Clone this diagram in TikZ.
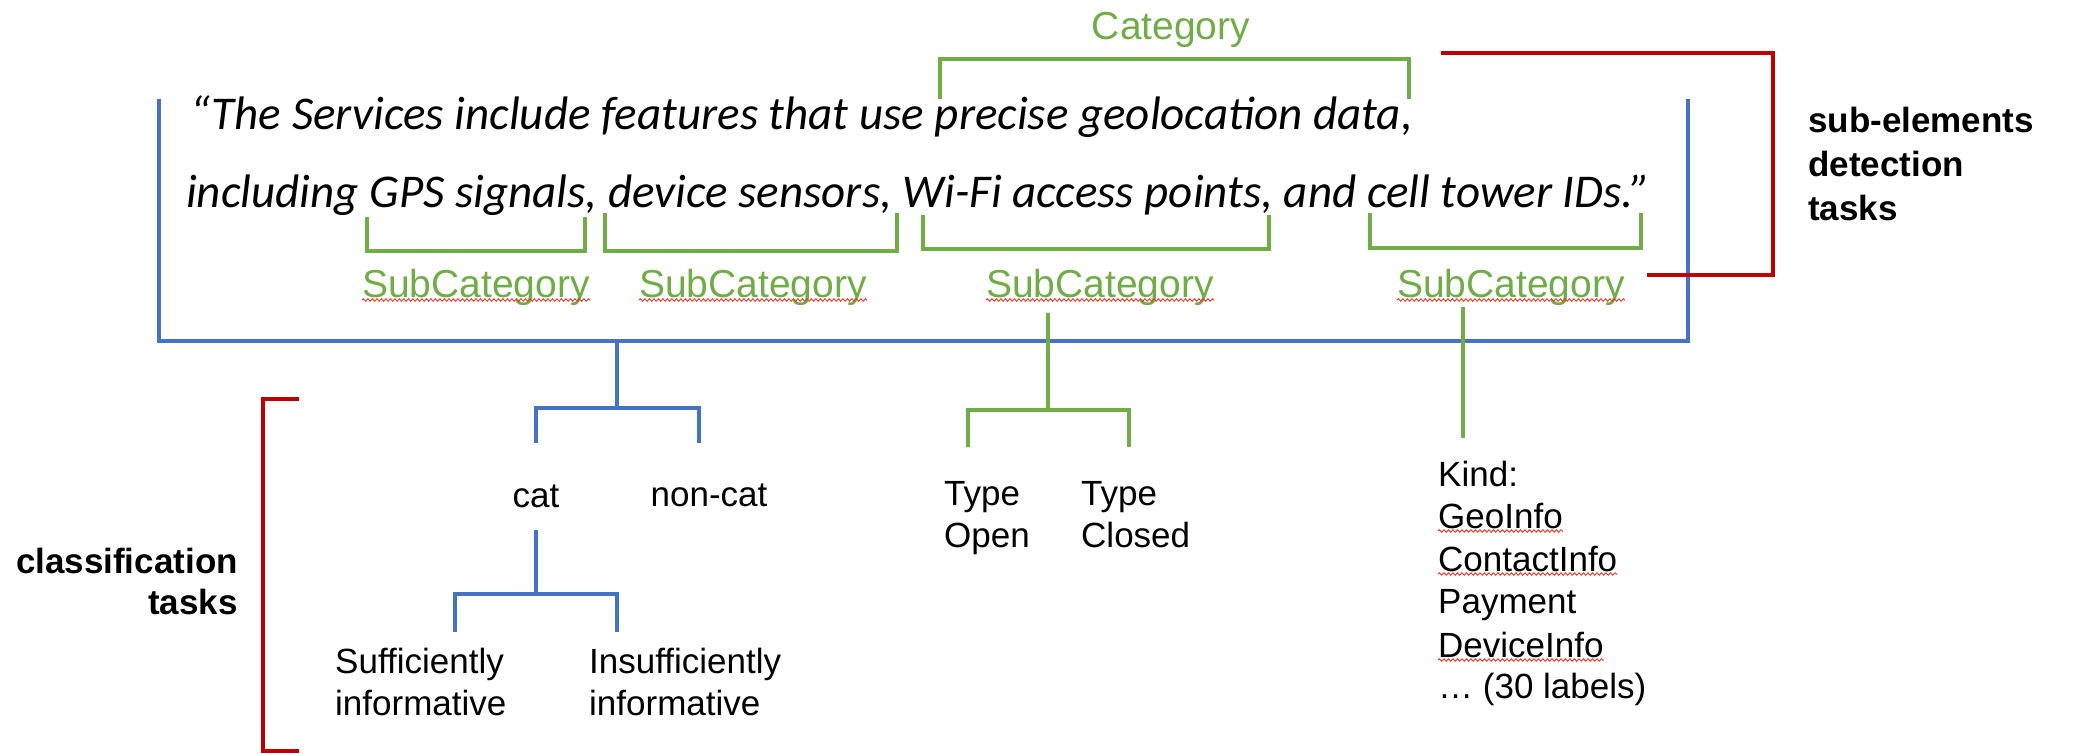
\documentclass[tikz,border=0pt]{standalone}
\usepackage{fontspec}
\setmainfont{Liberation Sans}
\newfontfamily\quotefont{Carlito}
\usetikzlibrary{decorations.pathmorphing}
\definecolor{linkblue}{HTML}{4472C4}
\definecolor{taggreen}{HTML}{70AD47}
\definecolor{taskred}{HTML}{C00000}
\definecolor{spellred}{HTML}{E8402F}
\begin{document}
\begin{tikzpicture}[x=1bp,y=-1bp,
  bline/.style={draw=linkblue,line width=4bp},
  gline/.style={draw=taggreen,line width=4bp},
  rline/.style={draw=taskred,line width=4.5bp},
  quote/.style={anchor=base west,inner sep=0,font=\quotefont\itshape\fontsize{47bp}{54bp}\selectfont},
  tag/.style={anchor=base,inner sep=0,text=taggreen,font=\fontsize{39bp}{46bp}\selectfont},
  lbl/.style={anchor=base west,inner sep=0,font=\fontsize{35bp}{42bp}\selectfont},
  task/.style={anchor=base west,inner sep=0,font=\bfseries\fontsize{35bp}{42bp}\selectfont},
  spell/.style={draw=spellred,line width=1bp,decorate,decoration={snake,amplitude=1.2bp,segment length=4.5bp}},
]
\useasboundingbox (0,0) rectangle (2073,755);

% the quoted sentence
\node[quote] (q1) at (190,129) {“The Services include features that use precise geolocation data,};
\node[quote] (q2) at (186,207) {including GPS signals, device sensors, Wi-Fi access points, and cell tower IDs.”};

% category / subcategory tags
\node[tag] (cat0) at (1171,40) {Category};
\node[tag] (sc1) at (476,297) {SubCategory};
\node[tag] (sc2) at (753,297) {SubCategory};
\node[tag] (sc3) at (1100,297) {SubCategory};
\node[tag] (sc4) at (1511,297) {SubCategory};
\foreach \n in {sc1,sc2,sc3,sc4}
  \draw[spell] ([yshift=-3bp]\n.base west) -- ([yshift=-3bp]\n.base east);

% brackets over and under the sentence
\draw[gline] (940,99) -- (940,59) -- (1409,59) -- (1409,99);
\draw[gline] (367,217) -- (367,251) -- (585,251) -- (585,217);
\draw[gline] (605,213) -- (605,251) -- (897,251) -- (897,213);
\draw[gline] (923,215) -- (923,249) -- (1269,249) -- (1269,215);
\draw[gline] (1370,213) -- (1370,248) -- (1641,248) -- (1641,213);

% sentence-level classification
\draw[bline] (159,99) -- (159,341) -- (1688,341) -- (1688,99);
\node[lbl,anchor=base] (cat) at (536,507) {cat};
\node[lbl,anchor=base] (noncat) at (709,506) {non-cat};
\coordinate (top1) at (617,341);
\coordinate (f1) at (617,408);
\coordinate (catin) at (536,443);
\coordinate (noncatin) at (699,443);
\draw[bline] (top1) -- (f1);
\draw[bline] (catin) |- (f1) -| (noncatin);

\node[lbl] (suff) at (335,673) {Sufficiently};
\node[lbl] (suff2) at (335,715) {informative};
\node[lbl] (insuff) at (589,673) {Insufficiently};
\node[lbl] (insuff2) at (589,715) {informative};
\coordinate (catout) at (536,530);
\coordinate (f2) at (536,594);
\coordinate (suffin) at (455,632);
\coordinate (insuffin) at (617,632);
\draw[bline] (catout) -- (f2);
\draw[bline] (suffin) |- (f2) -| (insuffin);

% type of the third subcategory
\node[lbl] (topen) at (944,505) {Type};
\node[lbl] (topen2) at (944,547) {Open};
\node[lbl] (tclosed) at (1081,505) {Type};
\node[lbl] (tclosed2) at (1081,547) {Closed};
\coordinate (sc3out) at (1048,313);
\coordinate (f3) at (1048,410);
\coordinate (openin) at (968,447);
\coordinate (closedin) at (1129,447);
\draw[gline] (sc3out) -- (f3);
\draw[gline] (openin) |- (f3) -| (closedin);

% kind of the fourth subcategory
\node[lbl] (kind) at (1438,486) {Kind:};
\node[lbl] (geo) at (1438,528) {GeoInfo};
\node[lbl] (contact) at (1438,571) {ContactInfo};
\node[lbl] (pay) at (1438,613) {Payment};
\node[lbl] (dev) at (1438,657) {DeviceInfo};
\node[lbl] (more) at (1438,698) {… (30 labels)};
\foreach \n in {geo,contact,dev}
  \draw[spell] ([yshift=-3bp]\n.base west) -- ([yshift=-3bp]\n.base east);
\coordinate (sc4out) at (1463,307);
\coordinate (kindin) at (1463,438);
\draw[gline] (sc4out) -- (kindin);

% task groups
\draw[rline] (1441,53) -- (1773,53) -- (1773,275) -- (1647,275);
\node[task] (sub1) at (1808,132) {sub-elements};
\node[task] (sub2) at (1808,176) {detection};
\node[task] (sub3) at (1808,220) {tasks};
\draw[rline] (299,399) -- (263,399) -- (263,751) -- (299,751);
\node[task,anchor=base east] (cls1) at (238,573) {classification};
\node[task,anchor=base east] (cls2) at (238,614) {tasks};
\end{tikzpicture}
\end{document}
